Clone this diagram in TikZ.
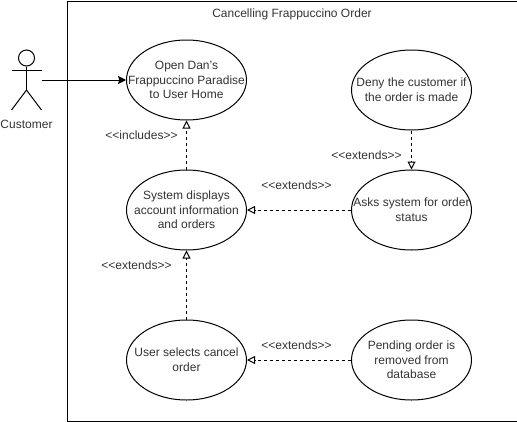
\documentclass[tikz,border=0pt]{standalone}
\usepackage{fontspec}
\setmainfont{Liberation Sans}
\usetikzlibrary{arrows.meta,shapes.geometric}
\tikzset{
  x=0.75pt,y=-0.75pt,
  every path/.style={line width=0.75pt},
  usecase/.style={draw=black,fill=white,ellipse,minimum width=90pt,minimum height=60pt,inner sep=-40pt,align=center,font=\fontsize{9}{11}\selectfont,text=black!80},
  lbl/.style={font=\fontsize{9}{11}\selectfont,text=black!80,inner sep=0pt},
  dep/.style={draw=black,dash pattern=on 2.25pt off 2.25pt,-{Triangle[open,fill=white,length=6pt,width=6pt]}},
  assoc/.style={draw=black,-{Stealth[fill=black,length=6pt,width=6pt,inset=1pt]}}
}
\begin{document}
\begin{tikzpicture}
\useasboundingbox (0,0) rectangle (517,421);
\node[draw=black,minimum width=337.5pt,minimum height=315pt,inner sep=0pt,anchor=north west] (frame) at (66.5,0.5) {};
\node[lbl] (title) at (292,14) {Cancelling Frappuccino Order};
\node[usecase] (open) at (186.5,80) {Open Dan's\\Frappuccino Paradise\\to User Home};
\node[usecase] (system) at (186.5,210) {System displays\\account information\\and orders};
\node[usecase] (select) at (186.5,360) {User selects cancel\\order};
\node[usecase] (deny) at (411.5,90) {Deny the customer if\\the order is made};
\node[usecase] (asks) at (411.5,210) {Asks system for order\\status};
\node[usecase] (pending) at (411.5,360) {Pending order is\\removed from\\database};
% actor
\node[draw=black,circle,minimum size=12pt,inner sep=0pt] (head) at (26.5,58) {};
\coordinate (hip) at (26.5,90);
\coordinate (lefthand) at (11.5,70.5);
\coordinate (righthand) at (41.5,70.5);
\coordinate (leftfoot) at (11.5,110);
\coordinate (rightfoot) at (41.5,110);
\coordinate (actorport) at (41.5,80);
\draw (head) -- (hip);
\draw (lefthand) -- (righthand);
\draw (leftfoot) -- (hip) -- (rightfoot);
\node[lbl] (customer) at (26.5,124) {Customer};
\draw[assoc] (actorport) -- (open.west);
\draw[dep] (system.north) -- (open.south);
\draw[dep] (select.north) -- (system.south);
\draw[dep] (deny.south) -- (asks.north);
\draw[dep] (asks.west) -- (system.east);
\draw[dep] (pending.west) -- (select.east);
\node[lbl] at (141.5,135) {<{}<includes>{}>};
\node[lbl] at (136.5,265) {<{}<extends>{}>};
\node[lbl] at (366.5,155) {<{}<extends>{}>};
\node[lbl] at (296.5,185) {<{}<extends>{}>};
\node[lbl] at (296.5,345) {<{}<extends>{}>};
\end{tikzpicture}
\end{document}
